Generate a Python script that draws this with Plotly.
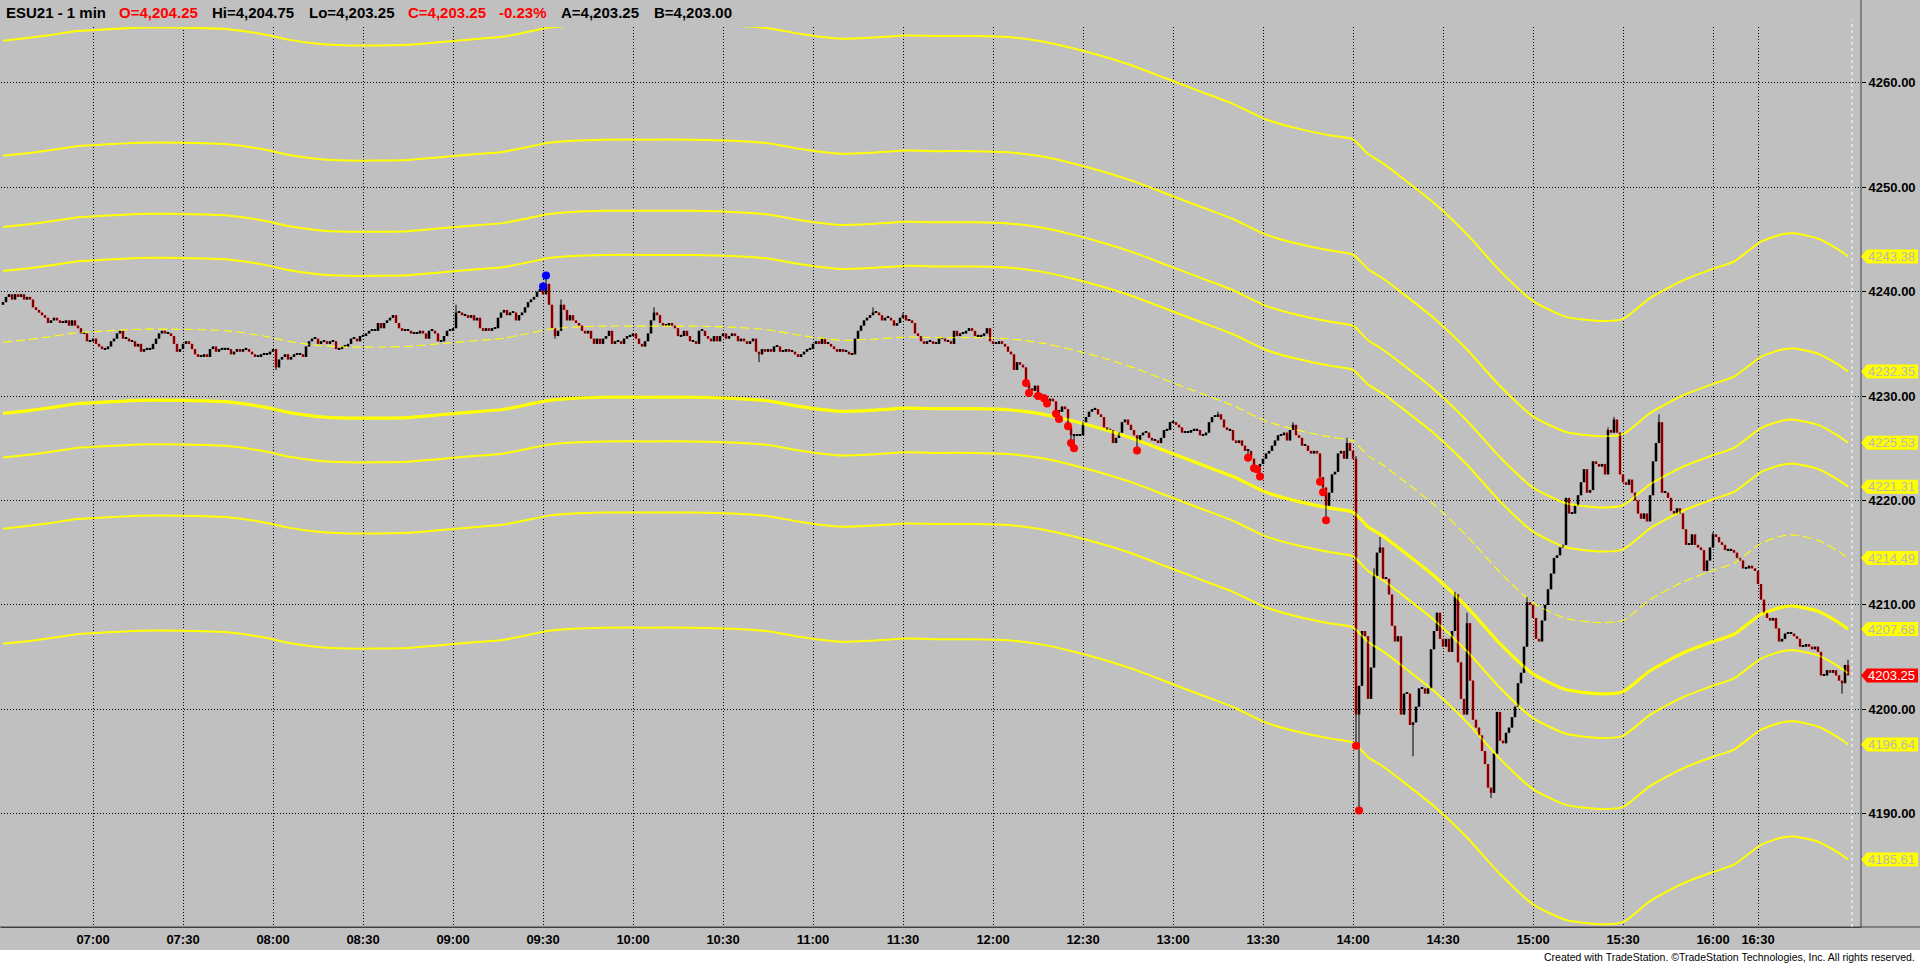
import plotly.graph_objects as go

# ---------------- DATA ----------------
# ESU21 1-minute bars. Bar index 0 = 06:30; session pause 16:15-16:30 is skipped.
first_open = 4238.75

close_0630_0900 = [
    4239.0, 4239.5, 4239.75, 4239.25, 4239.75, 4239.5, 4239.75, 4239.25, 4239.5, 4239.25,
    4238.5, 4238.25, 4238.0, 4237.75, 4237.5, 4237.0, 4237.25, 4237.5, 4237.25, 4237.0,
    4237.0, 4237.25, 4236.75, 4237.25, 4236.75, 4236.5, 4236.0, 4236.0, 4235.25, 4235.25,
    4235.5, 4235.0, 4234.75, 4234.5, 4234.5, 4234.75, 4235.25, 4235.5, 4236.0, 4236.25,
    4235.5, 4235.5, 4235.25, 4235.25, 4234.75, 4235.0, 4234.25, 4234.5, 4234.5, 4234.5,
    4235.0, 4235.5, 4236.0, 4236.25, 4236.0, 4236.0, 4235.75, 4235.0, 4234.25, 4234.5,
    4235.0, 4235.25, 4235.0, 4234.5, 4234.0, 4233.75, 4233.75, 4234.0, 4233.75, 4234.5,
    4234.75, 4234.25, 4234.5, 4234.5, 4234.5, 4234.5, 4234.0, 4234.25, 4234.5, 4234.25,
    4234.5, 4234.5, 4234.25, 4234.0, 4233.75, 4233.75, 4234.0, 4234.0, 4234.0, 4234.25,
    4234.5, 4232.75, 4233.5, 4233.75, 4234.0, 4233.5, 4233.75, 4234.0, 4234.0, 4234.0,
    4233.75, 4234.75, 4235.25, 4235.5, 4235.5, 4235.0, 4235.25, 4235.25, 4235.0, 4235.25,
    4235.25, 4234.5, 4234.5, 4234.75, 4234.75, 4235.0, 4235.5, 4235.5, 4235.25, 4235.75,
    4235.75, 4236.0, 4236.25, 4236.25, 4236.25, 4237.0, 4236.5, 4237.0, 4237.25, 4237.5,
    4237.75, 4237.0, 4236.5, 4236.25, 4236.25, 4236.25, 4236.0, 4236.0, 4236.0, 4236.25,
    4236.0, 4235.5, 4236.25, 4236.25, 4236.0, 4235.25, 4235.25, 4235.75, 4236.25, 4236.25,
]
close_0900_1100 = [
    4236.5, 4238.0, 4238.0, 4237.75, 4237.75, 4237.5, 4237.75, 4237.25, 4237.5, 4236.5,
    4236.25, 4236.5, 4236.25, 4236.5, 4236.5, 4237.5, 4238.0, 4238.25, 4237.75, 4238.0,
    4238.0, 4237.25, 4237.75, 4238.0, 4238.5, 4239.0, 4239.25, 4239.5, 4240.0, 4240.25,
    4239.75, 4240.75, 4238.75, 4236.5, 4235.75, 4236.25, 4238.75, 4238.25, 4237.25, 4237.75,
    4237.25, 4237.0, 4236.75, 4236.25, 4236.0, 4236.25, 4235.5, 4235.0, 4235.5, 4235.0,
    4235.5, 4235.75, 4236.25, 4235.0, 4235.25, 4235.25, 4235.0, 4235.5, 4235.75, 4235.75,
    4236.0, 4235.5, 4235.0, 4234.75, 4235.25, 4236.0, 4237.25, 4238.0, 4237.75, 4237.0,
    4236.75, 4236.75, 4237.0, 4236.75, 4236.5, 4235.75, 4235.75, 4236.25, 4235.75, 4235.25,
    4235.25, 4235.0, 4236.25, 4236.25, 4235.75, 4235.5, 4235.25, 4235.75, 4235.25, 4235.75,
    4236.0, 4235.5, 4235.75, 4236.0, 4235.75, 4235.25, 4235.5, 4235.25, 4235.0, 4235.25,
    4235.5, 4234.25, 4234.0, 4234.5, 4234.25, 4234.5, 4234.25, 4234.75, 4234.75, 4234.25,
    4234.25, 4234.5, 4234.25, 4234.25, 4234.0, 4233.75, 4234.0, 4234.25, 4234.5, 4234.5,
]
close_1100_1300 = [
    4235.0, 4235.25, 4235.0, 4235.5, 4235.0, 4235.0, 4234.75, 4234.5, 4234.25, 4234.5,
    4234.25, 4234.25, 4234.0, 4234.0, 4235.5, 4236.25, 4236.75, 4237.25, 4237.5, 4237.75,
    4238.0, 4238.0, 4237.75, 4237.25, 4237.5, 4237.5, 4237.25, 4236.75, 4237.0, 4237.5,
    4237.75, 4237.25, 4237.25, 4237.0, 4236.0, 4235.75, 4235.25, 4235.0, 4235.25, 4235.25,
    4235.0, 4235.0, 4235.5, 4235.5, 4235.25, 4235.25, 4235.0, 4236.25, 4235.75, 4236.0,
    4236.0, 4236.25, 4236.5, 4236.25, 4235.75, 4235.75, 4235.75, 4236.0, 4236.5, 4235.25,
    4235.0, 4235.0, 4235.25, 4235.0, 4234.75, 4234.25, 4234.0, 4232.5, 4233.25, 4233.0,
    4232.75, 4231.25, 4230.75, 4230.5, 4231.0, 4230.25, 4230.0, 4230.0, 4229.5, 4229.75,
    4229.5, 4228.5, 4228.5, 4229.0, 4228.75, 4227.0, 4226.25, 4226.25, 4226.25, 4226.25,
    4227.5, 4228.0, 4228.5, 4228.75, 4228.75, 4228.25, 4228.0, 4227.0, 4226.75, 4226.75,
    4225.5, 4226.0, 4226.5, 4227.5, 4227.75, 4227.25, 4226.75, 4226.25, 4225.75, 4226.25,
    4226.5, 4226.5, 4226.0, 4225.75, 4225.75, 4225.5, 4226.0, 4226.75, 4226.75, 4227.5,
]
close_1300_1500 = [
    4227.5, 4227.25, 4227.0, 4226.5, 4226.5, 4226.5, 4226.75, 4226.75, 4226.75, 4226.25,
    4226.25, 4226.5, 4227.5, 4228.0, 4228.0, 4228.25, 4227.75, 4227.0, 4226.75, 4226.75,
    4225.75, 4225.5, 4225.75, 4225.25, 4224.75, 4224.75, 4224.0, 4223.0, 4223.25, 4223.5,
    4224.0, 4224.5, 4224.75, 4225.25, 4225.75, 4226.25, 4226.25, 4226.5, 4225.75, 4226.75,
    4227.25, 4226.25, 4226.0, 4225.25, 4225.25, 4224.75, 4224.5, 4224.75, 4224.5, 4222.25,
    4221.25, 4219.5, 4220.75, 4222.5, 4222.75, 4224.5, 4224.75, 4224.0, 4225.5, 4224.75,
    4224.0, 4199.5, 4202.25, 4207.5, 4207.0, 4201.0, 4204.0, 4212.75, 4215.0, 4215.5,
    4212.5, 4212.5, 4211.0, 4208.0, 4206.5, 4207.0, 4199.5, 4201.5, 4201.5, 4198.5,
    4198.75, 4200.25, 4202.0, 4202.0, 4201.5, 4202.0, 4205.75, 4207.5, 4209.25, 4206.75,
    4206.0, 4206.75, 4205.5, 4207.5, 4211.0, 4204.5, 4201.0, 4199.5, 4208.25, 4202.75,
    4199.0, 4198.25, 4197.5, 4196.0, 4194.75, 4192.5, 4192.0, 4195.75, 4199.75, 4197.0,
    4196.75, 4197.75, 4198.25, 4199.25, 4200.25, 4202.5, 4203.5, 4206.0, 4210.25, 4210.0,
]
close_1500_1700 = [
    4208.75, 4206.75, 4206.5, 4208.5, 4210.0, 4211.5, 4213.0, 4214.5, 4214.75, 4215.5,
    4215.75, 4220.25, 4218.75, 4218.75, 4219.5, 4220.5, 4221.75, 4223.0, 4220.75, 4221.0,
    4223.75, 4223.5, 4223.25, 4223.5, 4222.5, 4226.75, 4226.5, 4227.75, 4226.5, 4222.5,
    4221.75, 4221.5, 4222.0, 4220.75, 4220.0, 4218.75, 4218.25, 4218.75, 4218.0, 4220.5,
    4223.75, 4225.5, 4227.5, 4220.75, 4220.75, 4220.25, 4219.0, 4218.75, 4219.25, 4218.75,
    4217.25, 4215.75, 4215.75, 4216.75, 4215.75, 4215.5, 4215.25, 4213.25, 4214.25, 4215.5,
    4216.75, 4216.5, 4216.0, 4215.75, 4215.25, 4215.25, 4215.25, 4215.0, 4214.5, 4214.25,
    4213.5, 4213.5, 4213.75, 4213.5, 4213.25, 4212.0, 4210.5, 4209.25, 4208.75, 4208.5,
    4208.75, 4207.75, 4206.5, 4206.75, 4207.25, 4207.25, 4207.25, 4207.0, 4206.75, 4206.0,
    4206.0, 4206.25, 4206.0, 4205.75, 4206.0, 4205.5, 4203.25, 4203.25, 4203.75, 4203.5,
    4203.75, 4203.25, 4202.75, 4202.5, 4204.25, 4203.25,
]

# wick extremes that stand out from the bodies
hi_idx = [151, 180, 181, 186, 217, 290, 300, 405, 430, 448, 451, 457, 459, 484, 488, 508, 535, 537, 552, 570, 615]
hi_val = [4238.75, 4240.5, 4241.25, 4239.25, 4238.5, 4238.5, 4238.0, 4228.5, 4227.5, 4226.0, 4224.25, 4213.5,
          4216.5, 4211.25, 4209.25, 4210.75, 4227.0, 4228.0, 4228.25, 4217.0, 4204.75]
lo_idx = [91, 184, 252, 341, 342, 345, 347, 348, 351, 352, 356, 357, 378, 415, 417, 418, 419, 439, 440, 441,
          451, 452, 470, 496, 613]
lo_val = [4232.5, 4235.5, 4233.25, 4231.0, 4230.25, 4230.0, 4229.75, 4229.25, 4228.25, 4227.75, 4225.5, 4225.0,
          4224.75, 4224.0, 4223.0, 4223.0, 4222.25, 4221.75, 4220.75, 4218.0, 4196.5, 4190.25, 4195.5, 4191.5, 4201.5]

# signal dots
red_dot_idx = [341, 342, 345, 347, 348, 351, 352, 355, 356, 357, 378, 415, 417, 418, 419, 439, 440, 441, 451, 452]
red_dot_val = [4231.25, 4230.3, 4230.0, 4229.8, 4229.3, 4228.3, 4227.8, 4227.1, 4225.5, 4225.0, 4224.8, 4224.1,
               4223.1, 4223.0, 4222.3, 4221.8, 4220.8, 4218.1, 4196.5, 4190.3]
blue_dot_idx = [180, 181]
blue_dot_val = [4240.5, 4241.55]

# centre line of the band indicator (dashed) sampled at bar indices
mid_idx = [0, 8, 16, 24, 32, 45, 60, 75, 88, 95, 105, 115, 125, 135, 145, 155, 167, 175, 182, 190, 200, 215,
           230, 243, 255, 266, 279, 290, 301, 312, 324, 335, 346, 357, 366, 377, 388, 399, 410, 421, 432, 443,
           450, 455, 460, 466, 477, 488, 499, 510, 521, 532, 540, 549, 560, 570, 577, 586, 593, 597, 605, 612, 615]
mid_val = [4235.15, 4235.4, 4235.7, 4236.05, 4236.2, 4236.4, 4236.4, 4236.25, 4235.7, 4235.25, 4234.85, 4234.7,
           4234.7, 4234.75, 4235.0, 4235.25, 4235.55, 4236.0, 4236.4, 4236.6, 4236.7, 4236.7, 4236.7, 4236.6,
           4236.35, 4235.8, 4235.35, 4235.45, 4235.65, 4235.6, 4235.6, 4235.5, 4235.1, 4234.4, 4233.7, 4232.7,
           4231.5, 4230.3, 4229.1, 4227.6, 4226.7, 4226.05, 4225.7, 4224.3, 4223.4, 4222.1, 4219.6, 4216.6,
           4213.1, 4210.2, 4208.7, 4208.3, 4208.5, 4210.5, 4212.2, 4213.3, 4214.0, 4215.9, 4216.6, 4216.7,
           4216.2, 4215.1, 4214.49]
band_offsets = [28.89, 17.86, 11.04, 6.82, -6.81, -11.04, -17.85, -28.88]
band_widths = [2, 2, 2, 2, 3.2, 2, 2, 2]

# right-axis value flags
flag_vals = [4243.38, 4232.35, 4225.53, 4221.31, 4214.49, 4207.68, 4196.64, 4185.61]
last_price = 4203.25

tick_idx = [30, 60, 90, 120, 150, 180, 210, 240, 270, 300, 330, 360, 390, 420, 450, 480, 510, 540, 570, 585]
tick_txt = ["07:00", "07:30", "08:00", "08:30", "09:00", "09:30", "10:00", "10:30", "11:00", "11:30",
            "12:00", "12:30", "13:00", "13:30", "14:00", "14:30", "15:00", "15:30", "16:00", "16:30"]
price_ticks = [4190, 4200, 4210, 4220, 4230, 4240, 4250, 4260]

header = [("ESU21 - 1 min", "#000000", 4), ("O=4,204.25", "#FF0000", 117), ("Hi=4,204.75", "#000000", 210),
          ("Lo=4,203.25", "#000000", 307), ("C=4,203.25", "#FF0000", 406), ("-0.23%", "#FF0000", 497),
          ("A=4,203.25", "#000000", 559), ("B=4,203.00", "#000000", 652)]

# ---------------- BUILD ----------------
closes = close_0630_0900 + close_0900_1100 + close_1100_1300 + close_1300_1500 + close_1500_1700
n = len(closes)
opens = [first_open] + closes[:-1]
highs = [max(o, c) for o, c in zip(opens, closes)]
lows = [min(o, c) for o, c in zip(opens, closes)]
for k, v in zip(hi_idx, hi_val):
    highs[k] = max(highs[k], v)
for k, v in zip(lo_idx, lo_val):
    lows[k] = min(lows[k], v)
idx = list(range(n))

BG = "#C0C0C0"
YEL = "#FFFF00"
W, H = 1920, 964
ML, MR, MT, MB = 1, 59, 27, 37
PW, PH = W - ML - MR, H - MT - MB


def px(X):
    return (X - ML) / PW


def py(Y):
    return (H - MB - Y) / PH


fig = go.Figure()

for off, wd in zip(band_offsets, band_widths):
    fig.add_trace(go.Scatter(x=mid_idx, y=[v + off for v in mid_val], mode="lines",
                             line=dict(color=YEL, width=wd, shape="spline", smoothing=0.6),
                             hoverinfo="skip", showlegend=False))
fig.add_trace(go.Scatter(x=mid_idx, y=mid_val, mode="lines",
                         line=dict(color=YEL, width=1.1, dash="9px,4px", shape="spline", smoothing=0.6),
                         hoverinfo="skip", showlegend=False))

wx, wy = [], []
for i in idx:
    wx += [i, i, None]
    wy += [lows[i], highs[i], None]
fig.add_trace(go.Scatter(x=wx, y=wy, mode="lines", line=dict(color="#000000", width=1),
                         hoverinfo="skip", showlegend=False))

base = [min(o, c) for o, c in zip(opens, closes)]
hgt = [max(abs(c - o), 0.12) for o, c in zip(opens, closes)]
cols = ["#FF0000" if c < o else "#000000" for o, c in zip(opens, closes)]
fig.add_trace(go.Bar(x=idx, y=hgt, base=base, width=0.85,
                     marker=dict(color=cols, line=dict(width=0)),
                     hoverinfo="skip", showlegend=False))

fig.add_trace(go.Scatter(x=red_dot_idx, y=red_dot_val, mode="markers",
                         marker=dict(color="#FF0000", size=8), hoverinfo="skip", showlegend=False))
fig.add_trace(go.Scatter(x=blue_dot_idx, y=blue_dot_val, mode="markers",
                         marker=dict(color="#0000FF", size=8), hoverinfo="skip", showlegend=False))

fig.update_layout(width=W, height=H, margin=dict(l=ML, r=MR, t=MT, b=MB, autoexpand=False),
                  paper_bgcolor=BG, plot_bgcolor=BG, showlegend=False, barmode="overlay")

fig.update_xaxes(range=[-0.667, 619.33], tickmode="array", tickvals=tick_idx, ticktext=tick_txt,
                 automargin=False,
                 showgrid=True, gridcolor="#000000", griddash="1px,2px", gridwidth=1, zeroline=False,
                 showline=True, linecolor="#404040", linewidth=1, ticks="",
                 tickfont=dict(family="Liberation Sans, Arial, sans-serif", size=13, color="#000000",
                               weight="bold"))
fig.update_yaxes(side="right", range=[4179.15, 4265.35], tickmode="array", tickvals=price_ticks,
                 automargin=False,
                 tickformat=".2f", ticks="outside", ticklen=4, tickcolor="#000000",
                 showgrid=True, gridcolor="#000000", griddash="1px,2px", gridwidth=1, zeroline=False,
                 showline=False,
                 tickfont=dict(family="Liberation Sans, Arial, sans-serif", size=13, color="#000000",
                               weight="bold"))

shapes = []
# axis border lines
shapes.append(dict(type="line", xref="paper", yref="paper", x0=px(1861), x1=px(1861), y0=py(0), y1=py(927),
                   line=dict(color="#404040", width=1)))
shapes.append(dict(type="line", xref="paper", yref="paper", x0=px(0), x1=px(1920), y0=py(927), y1=py(927),
                   line=dict(color="#404040", width=1)))
# white dashed "now" line
shapes.append(dict(type="line", xref="x", yref="paper", x0=616.3, x1=616.3, y0=0, y1=py(20),
                   line=dict(color="#FFFFFF", width=1, dash="3px,3px")))
# footer white strip
shapes.append(dict(type="rect", xref="paper", yref="paper", x0=px(0), x1=px(1921), y0=py(950), y1=py(965),
                   fillcolor="#FFFFFF", line=dict(width=0)))

annots = []
half = 7 / 10.44
for v in flag_vals:
    path = (f"M {px(1861)},{v} L {px(1867)},{v + half} L {px(1918)},{v + half} "
            f"L {px(1918)},{v - half} L {px(1867)},{v - half} Z")
    shapes.append(dict(type="path", xref="paper", yref="y", path=path, fillcolor=YEL, line=dict(width=0)))
    annots.append(dict(xref="paper", yref="y", x=px(1866), y=v, text=f"{v:.2f}", showarrow=False,
                       xanchor="left", yanchor="middle",
                       font=dict(family="Liberation Sans, Arial, sans-serif", size=13, color="#B8B8B8")))
v = last_price
path = (f"M {px(1861)},{v} L {px(1867)},{v + half} L {px(1918)},{v + half} "
        f"L {px(1918)},{v - half} L {px(1867)},{v - half} Z")
shapes.append(dict(type="path", xref="paper", yref="y", path=path, fillcolor="#FF0000", line=dict(width=0)))
annots.append(dict(xref="paper", yref="y", x=px(1866), y=v, text=f"{v:.2f}", showarrow=False,
                   xanchor="left", yanchor="middle",
                   font=dict(family="Liberation Sans, Arial, sans-serif", size=13, color="#FFFFFF")))

for txt, col, X in header:
    annots.append(dict(xref="paper", yref="paper", x=px(X), y=py(12), text=txt, showarrow=False,
                       xanchor="left", yanchor="middle",
                       font=dict(family="Liberation Sans, Arial, sans-serif", size=15, color=col,
                                 weight="bold")))

annots.append(dict(xref="paper", yref="paper", x=px(1917), y=py(957),
                   text="Created with TradeStation. ©TradeStation Technologies, Inc. All rights reserved.",
                   showarrow=False, xanchor="right", yanchor="middle",
                   font=dict(family="Liberation Sans, Arial, sans-serif", size=10.5, color="#000000")))

fig.update_layout(shapes=shapes, annotations=annots)
fig.write_html("out.html", config={"displayModeBar": False},
               post_script="document.body.style.margin='0';document.body.style.overflow='hidden';")
